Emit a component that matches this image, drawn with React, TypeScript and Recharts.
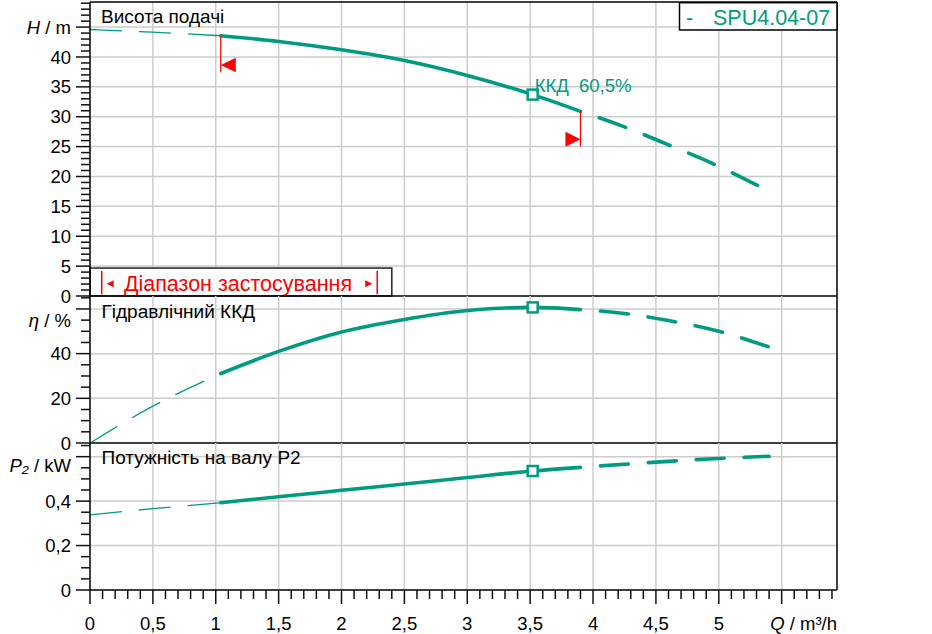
import React from 'react';
import {
  ComposedChart,
  Line,
  XAxis,
  YAxis,
  CartesianGrid,
  ReferenceLine,
  ReferenceDot,
  ReferenceArea,
} from 'recharts';

const TEAL = '#009B80';
const RED = '#FF0000';
const GRID = '#CCCCCC';
const FONT = '"Liberation Sans", Arial, sans-serif';

const PUMP_NAME = 'SPU4.04-07';
const TITLE_HEAD = 'Висота подачі';
const TITLE_EFF = 'Гідравлічний ККД';
const TITLE_POWER = 'Потужність на валу P2';
const RANGE_TEXT = 'Діапазон застосування';
const DUTY_TEXT = ['ККД', '60,5%'];

// pump curves, Q in m³/h
const Q_POINTS = [0, 0.5, 1.04, 1.5, 2, 2.5, 3, 3.52, 3.9, 4.25, 4.6, 5, 5.4];
const HEAD_M = [44.6, 44.15, 43.55, 42.6, 41.2, 39.4, 36.9, 33.7, 30.9, 28.3, 25.3, 21.7, 17.5];
const EFF_PCT = [0, 16.5, 31.1, 41.0, 49.7, 55.3, 59.3, 60.7, 59.7, 58.0, 54.8, 50.0, 43.0];
const POWER_KW = [0.338, 0.366, 0.393, 0.42, 0.4485, 0.477, 0.506, 0.5355, 0.552, 0.566, 0.579, 0.592, 0.6015];

// indexes into Q_POINTS
const RANGE_START = 2; // thick curve starts
const RANGE_END = 8; // thick curve ends
const DUTY = 7; // best efficiency point

// red range flags on the head curve: [Q, flag H, line bottom H]
const FLAG_LEFT = [1.04, 38.66, 37.46];
const FLAG_RIGHT = [3.9, 26.24, 25.03];
// "Діапазон застосування" box: Q end, H top
const RANGE_BOX = [2.4, 4.68];

// axis extents
const Q_MAX = 5.94;
const H_MAX = 49.2;
const ETA_MAX = 65.8;
const P_MAX = 0.6615;
const M_PER_MPA = 101.97;

// tick labels
const Q_LABELED = [0, 0.5, 1, 1.5, 2, 2.5, 3, 3.5, 4, 4.5, 5];
const H_LABELED = [0, 5, 10, 15, 20, 25, 30, 35, 40];
const MPA_LABELED = [0, 0.05, 0.1, 0.15, 0.2, 0.25, 0.3, 0.35, 0.4];
const ETA_LABELED = [0, 20, 40];
const P_LABELED = [0, 0.2, 0.4];

const Q_GRID = [0.5, 1, 1.5, 2, 2.5, 3, 3.5, 4, 4.5, 5, 5.5];
const H_GRID = [5, 10, 15, 20, 25, 30, 35, 40, 45];
const ETA_GRID = [20, 40, 60];
const P_GRID = [0.2, 0.4, 0.6];

const near = (a: number, b: number) => Math.abs(a - b) < 1e-6;
const has = (list: number[], v: number) => list.some((a) => near(a, v));
const fmt = (v: number) => String(v).replace('.', ',');

function steps(to: number, step: number) {
  const out: number[] = [];
  for (let i = 0; i * step <= to + 1e-9; i++) out.push(Number((i * step).toFixed(4)));
  return out;
}

type AxisSpec = {
  minor: number[];
  major: number[];
  labeled: number[];
  nameAt: number;
  name: React.ReactNode;
};

const Q_AXIS: AxisSpec = {
  minor: steps(5.9, 0.1),
  major: steps(5.5, 0.5),
  labeled: Q_LABELED,
  nameAt: Q_MAX,
  name: (
    <>
      <tspan fontStyle="italic">Q</tspan> / m³/h
    </>
  ),
};
const H_AXIS: AxisSpec = {
  minor: steps(49, 1),
  major: steps(45, 5),
  labeled: H_LABELED,
  nameAt: 45,
  name: (
    <>
      <tspan fontStyle="italic">H</tspan> / m
    </>
  ),
};
const MPA_AXIS: AxisSpec = {
  minor: steps(0.48, 0.005),
  major: steps(0.4, 0.05),
  labeled: MPA_LABELED,
  nameAt: Number((45 / M_PER_MPA).toFixed(4)),
  name: (
    <>
      <tspan fontStyle="italic">Δp</tspan> / MPa
    </>
  ),
};
const ETA_AXIS: AxisSpec = {
  minor: steps(65, 5),
  major: [0, 20, 40, 60],
  labeled: ETA_LABELED,
  nameAt: 55,
  name: (
    <>
      <tspan fontStyle="italic">η</tspan> / %
    </>
  ),
};
const P_AXIS: AxisSpec = {
  minor: steps(0.65, 0.05),
  major: [0, 0.2, 0.4, 0.6],
  labeled: P_LABELED,
  nameAt: 0.56,
  name: (
    <>
      <tspan fontStyle="italic">P₂</tspan> / kW
    </>
  ),
};

const allTicks = (a: AxisSpec) =>
  Array.from(new Set([...a.minor, ...a.major, a.nameAt])).sort((x, y) => x - y);

function makeTick(axis: AxisSpec, side: 'left' | 'right' | 'bottom') {
  return (props: any) => {
    const { x, y, payload } = props;
    const v = Number(payload.value);
    const major = has(axis.major, v);
    const len = major ? 14 : has(axis.minor, v) ? 9 : 0;
    const isName = near(v, axis.nameAt);
    const content = isName ? axis.name : has(axis.labeled, v) ? fmt(v) : null;
    const textProps = { fontFamily: FONT, fontSize: 18.5, fill: '#000' };
    if (side === 'bottom') {
      return (
        <g>
          {len > 0 && <line x1={x} y1={y} x2={x} y2={y + len} stroke="#111" strokeWidth={1.5} />}
          {content != null && (
            <text x={x} y={y + 33} dy="0.355em" textAnchor={isName ? 'end' : 'middle'} {...textProps}>
              {content}
            </text>
          )}
        </g>
      );
    }
    const dir = side === 'left' ? -1 : 1;
    return (
      <g>
        {len > 0 && <line x1={x} y1={y} x2={x + dir * len} y2={y} stroke="#111" strokeWidth={1.5} />}
        {content != null && (
          <text
            x={x + dir * 19}
            y={y}
            dy="0.355em"
            textAnchor={side === 'left' ? 'end' : 'start'}
            {...textProps}
          >
            {content}
          </text>
        )}
      </g>
    );
  };
}

function splitRows(values: number[]) {
  return Q_POINTS.map((q, i) => ({
    q,
    low: i <= RANGE_START ? values[i] : null,
    main: i >= RANGE_START && i <= RANGE_END ? values[i] : null,
    high: i >= RANGE_END ? values[i] : null,
  }));
}

const headRows = splitRows(HEAD_M);
const effRows = splitRows(EFF_PCT);
const powerRows = splitRows(POWER_KW);

function curveLines() {
  return [
    <Line
      key="low"
      dataKey="low"
      type="monotone"
      stroke={TEAL}
      strokeWidth={1.3}
      strokeDasharray="32 17"
      dot={false}
      activeDot={false}
      isAnimationActive={false}
    />,
    <Line
      key="main"
      dataKey="main"
      type="monotone"
      stroke={TEAL}
      strokeWidth={3.6}
      strokeLinecap="round"
      dot={false}
      activeDot={false}
      isAnimationActive={false}
    />,
    <Line
      key="high"
      dataKey="high"
      type="monotone"
      stroke={TEAL}
      strokeWidth={3.6}
      strokeLinecap="round"
      strokeDasharray="28 20"
      strokeDashoffset={28}
      dot={false}
      activeDot={false}
      isAnimationActive={false}
    />,
  ];
}

const DutySquare = (props: any) => (
  <rect x={props.cx - 5} y={props.cy - 5} width={10} height={10} fill="#fff" stroke={TEAL} strokeWidth={2.5} />
);

const DutySquareLabel = (props: any) => (
  <g>
    <DutySquare {...props} />
    <text x={props.cx + 2} y={props.cy - 2.5} fontFamily={FONT} fontSize={18.6} fill={TEAL}>
      {DUTY_TEXT[0]}
      <tspan dx={10}>{DUTY_TEXT[1]}</tspan>
    </text>
  </g>
);

const FlagLeft = (p: any) => (
  <polygon points={`${p.cx},${p.cy} ${p.cx + 15},${p.cy - 7.2} ${p.cx + 15},${p.cy + 7.2}`} fill={RED} />
);
const FlagRight = (p: any) => (
  <polygon points={`${p.cx},${p.cy} ${p.cx - 15},${p.cy - 7.5} ${p.cx - 15},${p.cy + 7.5}`} fill={RED} />
);

const RangeBox = (p: any) => {
  const { x, y, width, height } = p;
  const lx = x + 11.7;
  const rx = x + width - 14.6;
  const cy = y + 15.6;
  return (
    <g>
      <rect x={x} y={y} width={width} height={height} fill="#fff" stroke="#222" strokeWidth={1.5} />
      <line x1={lx} y1={y + 3} x2={lx} y2={y + height - 1.7} stroke={RED} strokeWidth={1.5} />
      <line x1={rx} y1={y + 3} x2={rx} y2={y + height - 1.7} stroke={RED} strokeWidth={1.5} />
      <polygon points={`${lx + 5},${cy} ${lx + 12},${cy - 3.5} ${lx + 12},${cy + 3.5}`} fill={RED} />
      <polygon points={`${rx - 5},${cy} ${rx - 12},${cy - 3.5} ${rx - 12},${cy + 3.5}`} fill={RED} />
      <text
        x={x + 148}
        y={cy}
        dy="0.355em"
        textAnchor="middle"
        fontFamily={FONT}
        fontSize={21.5}
        fill={RED}
      >
        {RANGE_TEXT}
      </text>
    </g>
  );
};

const axisLine = { stroke: '#000', strokeWidth: 1.5 };

export default function App() {
  return (
    <div
      style={{
        position: 'absolute',
        left: 0,
        top: 0,
        width: 932,
        height: 634,
        background: '#fff',
        overflow: 'hidden',
        fontFamily: FONT,
      }}
    >
      {/* head */}
      <div style={{ position: 'absolute', left: 0, top: 0 }}>
        <ComposedChart width={932} height={310} data={headRows} margin={{ top: 2, right: 35, bottom: 14, left: 30 }}>
          <CartesianGrid stroke={GRID} strokeWidth={1.5} horizontalValues={H_GRID} verticalValues={Q_GRID} />
          <XAxis type="number" dataKey="q" domain={[0, Q_MAX]} hide />
          <YAxis
            type="number"
            domain={[0, H_MAX]}
            ticks={allTicks(H_AXIS)}
            interval={0}
            tickSize={0}
            tickMargin={0}
            tickLine={false}
            tick={makeTick(H_AXIS, 'left')}
            axisLine={axisLine}
            width={60}
          />
          <YAxis
            yAxisId="mpa"
            orientation="right"
            type="number"
            domain={[0, H_MAX / M_PER_MPA]}
            ticks={allTicks(MPA_AXIS)}
            interval={0}
            tickSize={0}
            tickMargin={0}
            tickLine={false}
            tick={makeTick(MPA_AXIS, 'right')}
            axisLine={axisLine}
            width={60}
          />
          <ReferenceLine y={H_MAX} stroke="#000" strokeWidth={1.5} />
          <ReferenceLine y={0} stroke="#000" strokeWidth={1.3} />
          <ReferenceArea x1={0} x2={RANGE_BOX[0]} y1={0} y2={RANGE_BOX[1]} shape={RangeBox} />
          {curveLines()}
          <ReferenceLine
            segment={[
              { x: FLAG_LEFT[0], y: HEAD_M[RANGE_START] },
              { x: FLAG_LEFT[0], y: FLAG_LEFT[2] },
            ]}
            stroke={RED}
            strokeWidth={1.3}
          />
          <ReferenceLine
            segment={[
              { x: FLAG_RIGHT[0], y: HEAD_M[RANGE_END] },
              { x: FLAG_RIGHT[0], y: FLAG_RIGHT[2] },
            ]}
            stroke={RED}
            strokeWidth={1.3}
          />
          <ReferenceDot x={FLAG_LEFT[0]} y={FLAG_LEFT[1]} shape={FlagLeft} />
          <ReferenceDot x={FLAG_RIGHT[0]} y={FLAG_RIGHT[1]} shape={FlagRight} />
          <ReferenceDot x={Q_POINTS[DUTY]} y={HEAD_M[DUTY]} shape={DutySquareLabel} />
        </ComposedChart>
      </div>

      {/* efficiency */}
      <div style={{ position: 'absolute', left: 0, top: 280 }}>
        <ComposedChart width={932} height={180} data={effRows} margin={{ top: 16, right: 95, bottom: 17, left: 30 }}>
          <CartesianGrid stroke={GRID} strokeWidth={1.5} horizontalValues={ETA_GRID} verticalValues={Q_GRID} />
          <XAxis type="number" dataKey="q" domain={[0, Q_MAX]} hide />
          <YAxis
            type="number"
            domain={[0, ETA_MAX]}
            ticks={allTicks(ETA_AXIS)}
            interval={0}
            tickSize={0}
            tickMargin={0}
            tickLine={false}
            tick={makeTick(ETA_AXIS, 'left')}
            axisLine={axisLine}
            width={60}
          />
          <ReferenceLine x={Q_MAX} stroke="#000" strokeWidth={1.5} />
          <ReferenceLine y={0} stroke="#000" strokeWidth={1.3} />
          {curveLines()}
          <ReferenceDot x={Q_POINTS[DUTY]} y={EFF_PCT[DUTY]} shape={DutySquare} />
        </ComposedChart>
      </div>

      {/* shaft power */}
      <div style={{ position: 'absolute', left: 0, top: 430 }}>
        <ComposedChart width={932} height={204} data={powerRows} margin={{ top: 13, right: 95, bottom: 0, left: 30 }}>
          <CartesianGrid stroke={GRID} strokeWidth={1.5} horizontalValues={P_GRID} verticalValues={Q_GRID} />
          <XAxis
            type="number"
            dataKey="q"
            domain={[0, Q_MAX]}
            ticks={allTicks(Q_AXIS)}
            interval={0}
            tickSize={0}
            tickMargin={0}
            tickLine={false}
            tick={makeTick(Q_AXIS, 'bottom')}
            axisLine={axisLine}
            height={44}
          />
          <YAxis
            type="number"
            domain={[0, P_MAX]}
            ticks={allTicks(P_AXIS)}
            interval={0}
            tickSize={0}
            tickMargin={0}
            tickLine={false}
            tick={makeTick(P_AXIS, 'left')}
            axisLine={axisLine}
            width={60}
          />
          <ReferenceLine x={Q_MAX} stroke="#000" strokeWidth={1.5} />
          {curveLines()}
          <ReferenceDot x={Q_POINTS[DUTY]} y={POWER_KW[DUTY]} shape={DutySquare} />
        </ComposedChart>
      </div>

      {/* panel titles and legend */}
      <svg
        width={932}
        height={634}
        style={{ position: 'absolute', left: 0, top: 0, pointerEvents: 'none' }}
        fontFamily={FONT}
      >
        <text x={101} y={22.7} fontSize={19} fill="#000">
          {TITLE_HEAD}
        </text>
        <text x={101.5} y={318.3} fontSize={19} fill="#000">
          {TITLE_EFF}
        </text>
        <text x={101.5} y={463.5} fontSize={19} fill="#000">
          {TITLE_POWER}
        </text>
        <rect x={679.5} y={2.7} width={157.5} height={27.3} fill="#fff" stroke="#000" strokeWidth={1.5} />
        <text x={686} y={25} fontSize={21.5} fill={TEAL}>
          -
        </text>
        <text x={713} y={25} fontSize={21.5} fill={TEAL}>
          {PUMP_NAME}
        </text>
      </svg>
    </div>
  );
}
